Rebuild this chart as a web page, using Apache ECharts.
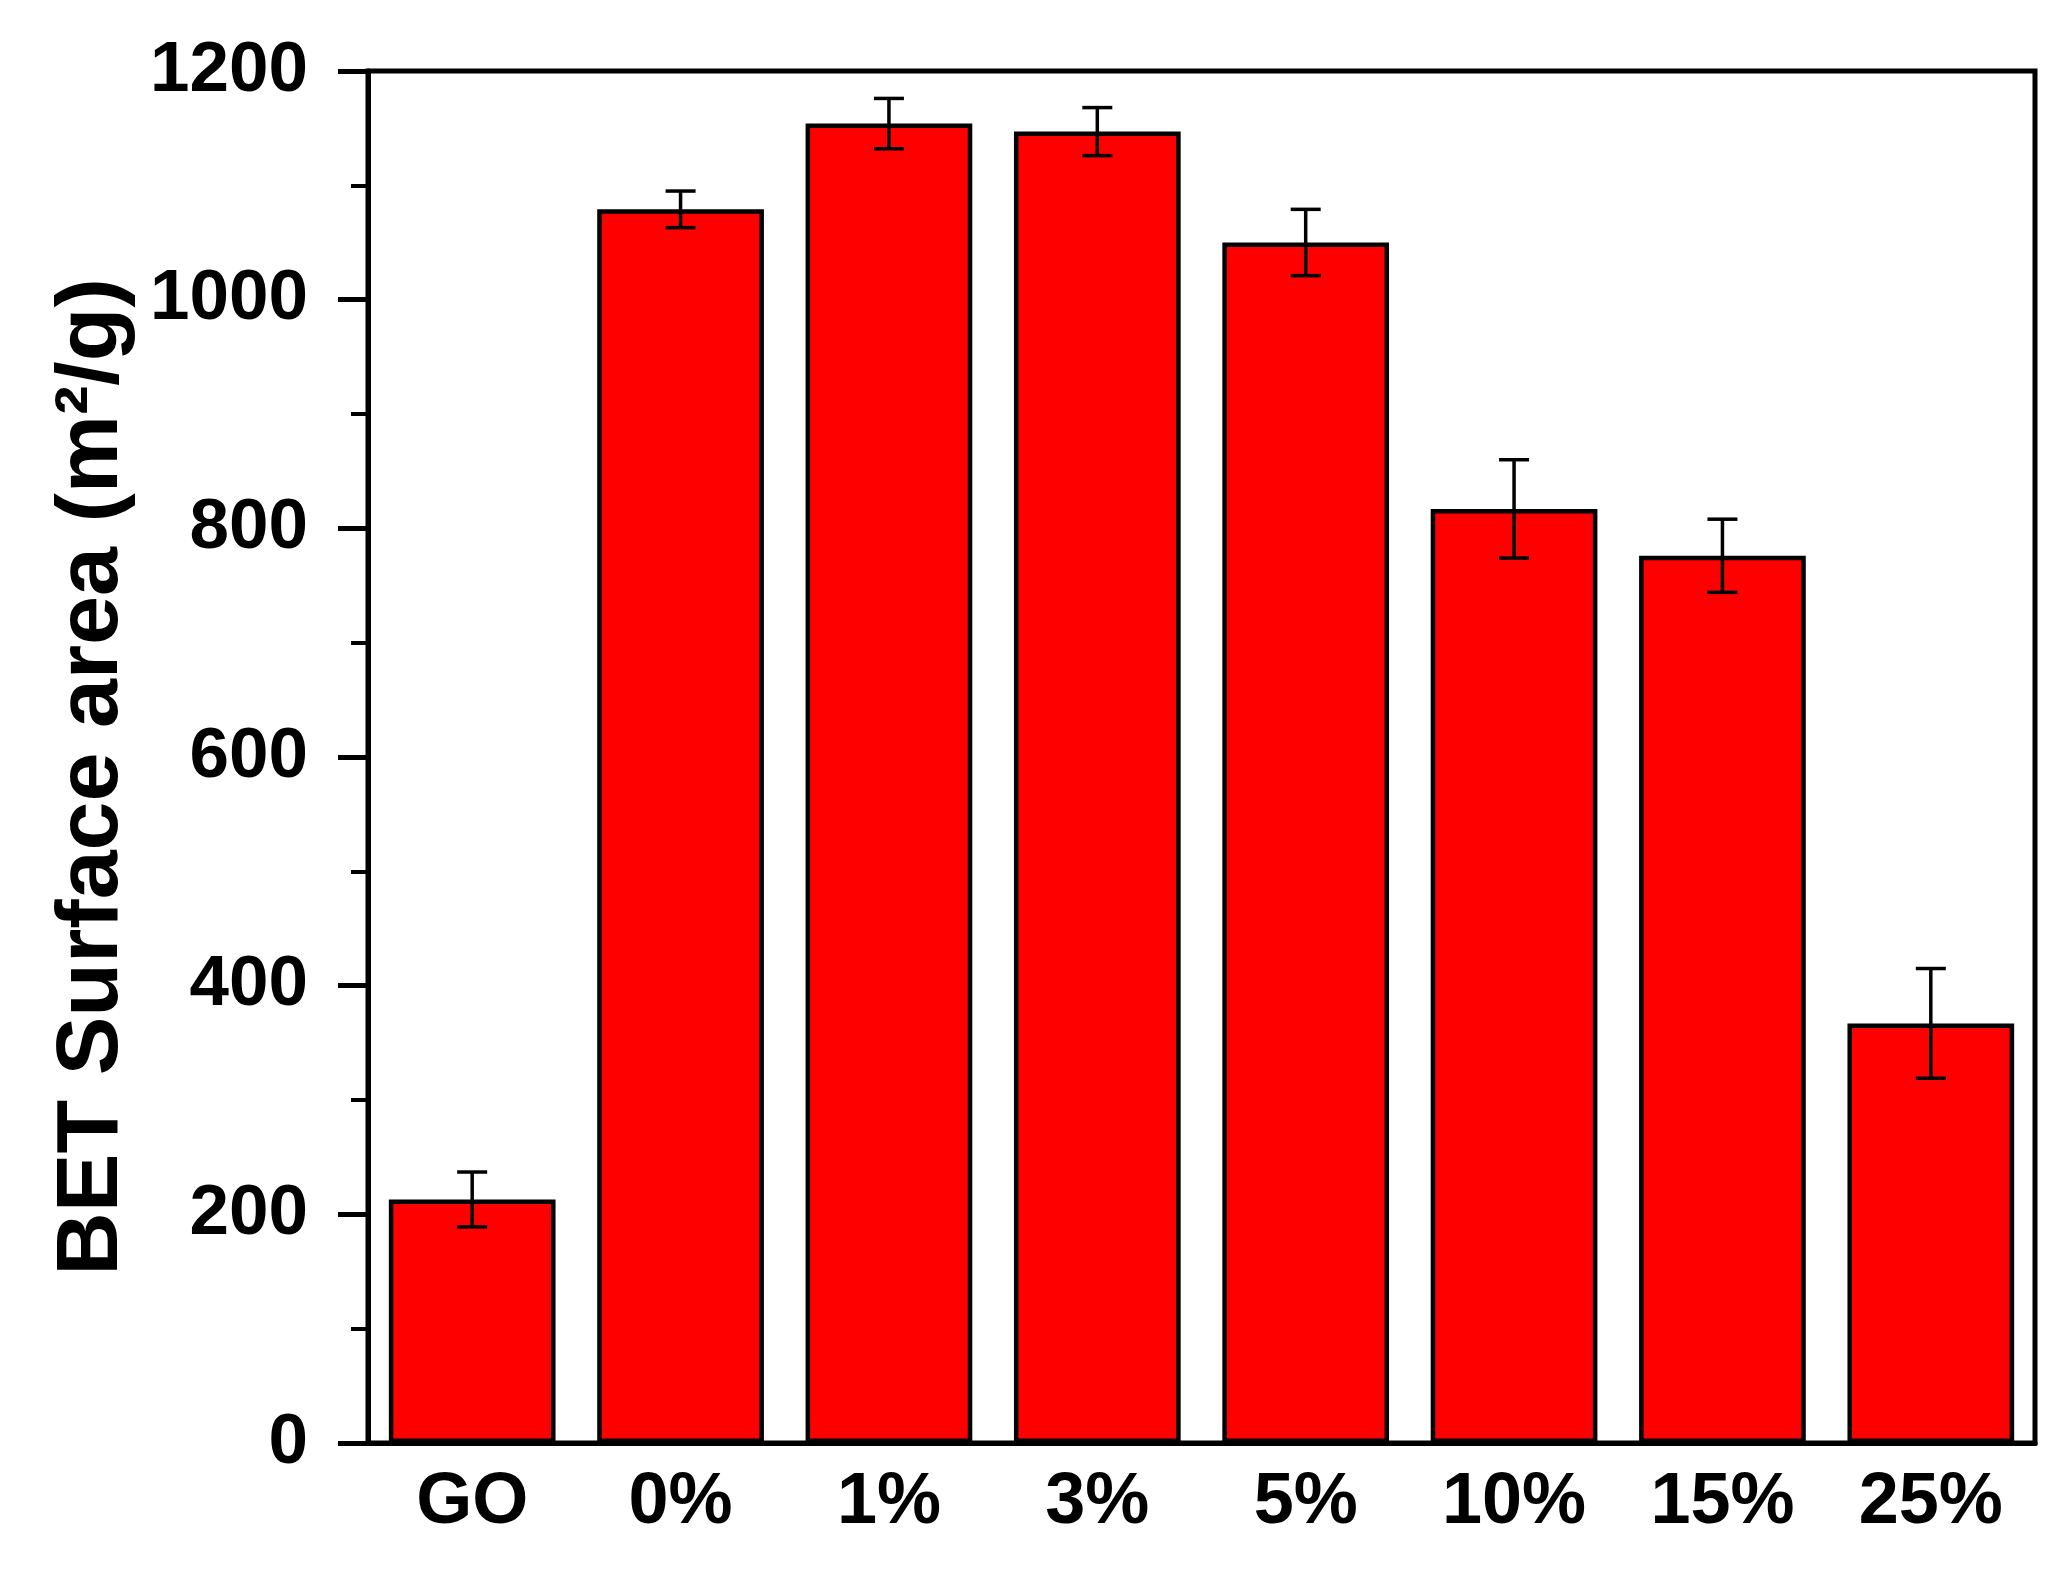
<!DOCTYPE html>
<html>
<head>
<meta charset="utf-8">
<script src="https://cdn.jsdelivr.net/npm/echarts@6/dist/echarts.min.js"></script>
<style>
  html, body { margin: 0; padding: 0; background: #fff; }
  #bet_main_bar { width: 2071px; height: 1572px; }
</style>
</head>
<body>
<div id="bet_main_bar"></div>
<script>
// 样品类别与 BET 比表面积 (m2/g)
const categories = ['GO', '0%', '1%', '3%', '5%', '10%', '15%', '25%'];
const surfaceArea = [213, 1079, 1154, 1147, 1050, 817, 776, 367];
const errorBar = [24, 16, 22, 21, 29, 43, 32, 48];
const yTicks = [0, 200, 400, 600, 800, 1000, 1200];

const fontFamily = '"Liberation Sans", Arial, sans-serif';

// 误差棒数据: [类别索引, 下限, 上限]
const errData = surfaceArea.map((v, i) => [i, v - errorBar[i], v + errorBar[i]]);

const myChart = echarts.init(document.getElementById('bet_main_bar'));
myChart.setOption({
    backgroundColor: '#fff',
    animation: false,
    grid: {
        left: 368,
        right: 36,
        top: 71,
        bottom: 129,
        show: true,
        borderColor: '#000',
        borderWidth: 5,
        backgroundColor: 'transparent'
    },
    xAxis: {
        type: 'category',
        data: categories,
        axisLine: { show: true, lineStyle: { color: '#000', width: 5 } },
        axisTick: { show: false },
        axisLabel: {
            color: '#000',
            fontFamily: fontFamily,
            fontWeight: 'bold',
            fontSize: 72,
            margin: 24
        },
        splitLine: { show: false }
    },
    yAxis: {
        type: 'value',
        min: yTicks[0],
        max: yTicks[yTicks.length - 1],
        interval: 200,
        name: 'BET Surface area (m\u00b2/g)',
        nameLocation: 'middle',
        nameRotate: 90,
        nameGap: 231,
        nameTextStyle: {
            color: '#000',
            fontFamily: fontFamily,
            fontWeight: 'bold',
            fontSize: 88,
            padding: [0, 40, 0, 0]
        },
        axisLine: { show: true, lineStyle: { color: '#000', width: 5 } },
        axisTick: { show: true, inside: false, length: 30, lineStyle: { color: '#000', width: 5 } },
        minorTick: { show: true, splitNumber: 2, length: 17, lineStyle: { color: '#000', width: 4 } },
        axisLabel: {
            color: '#000',
            fontFamily: fontFamily,
            fontWeight: 'bold',
            fontSize: 71,
            margin: 60,
            formatter: function (v) { return String(v); }
        },
        splitLine: { show: false }
    },
    series: [
        {
            name: 'BET',
            type: 'bar',
            data: surfaceArea,
            barWidth: '80%',
            itemStyle: {
                color: '#ff0000',
                borderColor: '#000',
                borderWidth: 4.5
            },
            z: 2
        },
        {
            name: 'error',
            type: 'custom',
            data: errData,
            z: 3,
            renderItem: function (params, api) {
                const x = api.value(0);
                const lo = api.coord([x, api.value(1)]);
                const hi = api.coord([x, api.value(2)]);
                const half = 15;
                const style = { stroke: '#000', lineWidth: 3.5 };
                return {
                    type: 'group',
                    children: [
                        { type: 'line', shape: { x1: hi[0], y1: hi[1], x2: lo[0], y2: lo[1] }, style: style },
                        { type: 'line', shape: { x1: hi[0] - half, y1: hi[1], x2: hi[0] + half, y2: hi[1] }, style: style },
                        { type: 'line', shape: { x1: lo[0] - half, y1: lo[1], x2: lo[0] + half, y2: lo[1] }, style: style }
                    ]
                };
            }
        }
    ]
});
</script>
</body>
</html>
